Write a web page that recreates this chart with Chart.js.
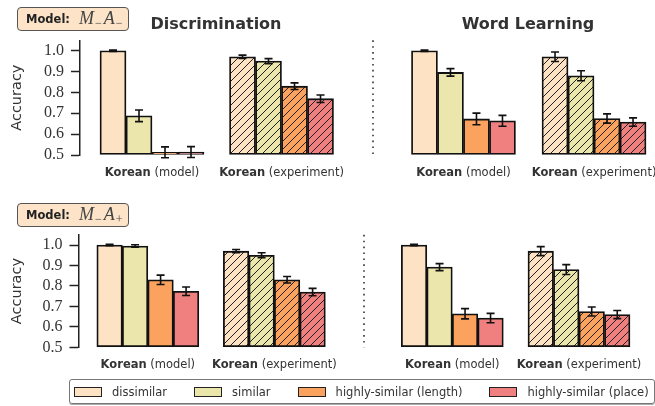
<!DOCTYPE html>
<html>
<head>
<meta charset="utf-8">
<script src="https://cdn.jsdelivr.net/npm/chart.js@4.4.1/dist/chart.umd.min.js"></script>
<style>
  html, body { margin: 0; padding: 0; background: #fff; }
  #fig { position: relative; width: 655px; height: 406px; overflow: hidden;
         font-family: "DejaVu Sans", sans-serif; color: #333; }
  #fig canvas { position: absolute; left: 0; top: 0; }
  .title { position: absolute; font-weight: bold; font-size: 16px; line-height: 18px;
           transform: translateX(-50%); white-space: nowrap; color: #333; }
  .model { position: absolute; left: 17px; width: 112px; height: 24px; box-sizing: border-box;
           border: 1px solid #555; border-radius: 4px; background: #fde4c8;
           display: flex; align-items: center; padding-left: 8px; white-space: nowrap; color: #222; }
  .model b { font-size: 11.5px; margin-right: 9px; }
  .math { font-family: "Liberation Serif", serif; font-style: italic; font-size: 18px; color: #444; }
  .math sub { font-style: normal; font-size: 12px; vertical-align: -3px; margin: 0 2px 0 1px; }
  #legend { position: absolute; left: 69px; top: 379px; width: 586px; height: 25px; box-sizing: border-box;
            border: 1px solid #777; border-radius: 3px; box-shadow: 0 1px 0 #aaa;
            display: flex; align-items: center; padding-left: 4px; font-size: 11.5px; color: #333;
            white-space: nowrap; }
  .swatch { width: 28px; height: 10px; box-sizing: border-box; border: 1px solid #222; margin-right: 10px; flex: none; }
  .item { display: flex; align-items: center; margin-right: 27px; flex: none; }
</style>
</head>
<body>
<div id="fig">
  <canvas id="tl" width="655" height="406"></canvas>
  <canvas id="tr" width="655" height="406"></canvas>
  <canvas id="bl" width="655" height="406"></canvas>
  <canvas id="br" width="655" height="406"></canvas>
  <div class="model" style="top:7px"><b>Model:</b><span class="math">M<sub>−</sub>A<sub>−</sub></span></div>
  <div class="model" style="top:203px"><b>Model:</b><span class="math">M<sub>−</sub>A<sub>+</sub></span></div>
  <div class="title" style="left:216px; top:15px">Discrimination</div>
  <div class="title" style="left:528px; top:15px">Word Learning</div>
  <div id="legend"></div>
</div>
<script>
// Groups along the x axis and the four stimulus conditions
const language = 'Korean';
const categories = ['model', 'experiment'];
const series = ['dissimilar', 'similar', 'highly-similar (length)', 'highly-similar (place)'];
const seriesColors = ['#fde2c3', '#ebe6ac', '#fba35e', '#f08080'];
const tickValues = [0.5, 0.6, 0.7, 0.8, 0.9, 1.0];

// Mean accuracy per condition: [model, experiment]
const discMinusMean = [[1.000, 0.971], [0.688, 0.950], [0.513, 0.830], [0.514, 0.770]];
const discMinusErr  = [[0.003, 0.008], [0.028, 0.012], [0.026, 0.016], [0.026, 0.018]];
const wordMinusMean = [[1.000, 0.971], [0.896, 0.880], [0.673, 0.675], [0.664, 0.658]];
const wordMinusErr  = [[0.003, 0.023], [0.018, 0.024], [0.028, 0.022], [0.026, 0.020]];
const discPlusMean  = [[1.000, 0.970], [0.995, 0.950], [0.830, 0.830], [0.774, 0.770]];
const discPlusErr   = [[0.003, 0.008], [0.006, 0.012], [0.023, 0.016], [0.021, 0.018]];
const wordPlusMean  = [[1.000, 0.970], [0.892, 0.880], [0.664, 0.675], [0.643, 0.660]];
const wordPlusErr   = [[0.003, 0.022], [0.017, 0.024], [0.025, 0.022], [0.023, 0.020]];

const W = 655, H = 406;

// Diagonal hatching used for the experiment bars
const patternCache = {};
function hatch(color) {
  if (patternCache[color]) return patternCache[color];
  const s = 8;
  const c = document.createElement('canvas');
  c.width = s; c.height = s;
  const g = c.getContext('2d');
  g.fillStyle = color; g.fillRect(0, 0, s, s);
  g.strokeStyle = '#222'; g.lineWidth = 1;
  g.beginPath();
  g.moveTo(0, s); g.lineTo(s, 0);
  g.moveTo(-1, 1); g.lineTo(1, -1);
  g.moveTo(s - 1, s + 1); g.lineTo(s + 1, s - 1);
  g.stroke();
  patternCache[color] = g.createPattern(c, 'repeat');
  return patternCache[color];
}

// Vertical error bars with caps
const errorBars = {
  id: 'errorBars',
  afterDatasetsDraw(chart) {
    const ctx = chart.ctx, y = chart.scales.y;
    ctx.save();
    ctx.strokeStyle = '#111';
    ctx.lineWidth = 1.6;
    chart.data.datasets.forEach((ds, di) => {
      chart.getDatasetMeta(di).data.forEach((bar, i) => {
        const v = ds.data[i].y, e = ds.errors[i];
        const yt = y.getPixelForValue(v + e), yb = y.getPixelForValue(v - e);
        const x = bar.x, cap = 4;
        ctx.beginPath();
        ctx.moveTo(x, yt); ctx.lineTo(x, yb);
        ctx.moveTo(x - cap, yt); ctx.lineTo(x + cap, yt);
        ctx.moveTo(x - cap, yb); ctx.lineTo(x + cap, yb);
        ctx.stroke();
      });
    });
    ctx.restore();
  }
};

// Dotted separator on the left edge of the word-learning panels
const dottedEdge = {
  id: 'dottedEdge',
  beforeDatasetsDraw(chart, args, opts) {
    if (!opts.show) return;
    const ctx = chart.ctx, a = chart.chartArea;
    ctx.save();
    ctx.strokeStyle = '#333';
    ctx.lineWidth = 1.6;
    ctx.setLineDash([1.6, 4.3]);
    ctx.beginPath();
    ctx.moveTo(a.left, a.top);
    ctx.lineTo(a.left, a.bottom);
    ctx.stroke();
    ctx.restore();
  }
};

// Group labels: bold language name followed by the group in brackets
const groupLabels = {
  id: 'groupLabels',
  afterDraw(chart) {
    const ctx = chart.ctx, xs = chart.scales.x;
    const bold = 'bold 11.5px "DejaVu Sans"', normal = '11.5px "DejaVu Sans"';
    ctx.save();
    ctx.fillStyle = '#333';
    ctx.textBaseline = 'middle';
    ctx.textAlign = 'left';
    categories.forEach((cat, i) => {
      const cx = xs.getPixelForValue(i);
      const cy = chart.chartArea.bottom + 18;
      const rest = ' (' + cat + ')';
      ctx.font = bold; const wa = ctx.measureText(language).width;
      ctx.font = normal; const wb = ctx.measureText(rest).width;
      const x0 = cx - (wa + wb) / 2;
      ctx.font = bold; ctx.fillText(language, x0, cy);
      ctx.font = normal; ctx.fillText(rest, x0 + wa, cy);
    });
    ctx.restore();
  }
};

function makePanel(id, means, errs, lay) {
  const datasets = series.map((name, s) => ({
    label: name,
    data: categories.map((c, i) => ({ x: i, y: means[s][i] })),
    errors: errs[s],
    backgroundColor: ctx => ctx.dataIndex === 1 ? hatch(seriesColors[s]) : seriesColors[s],
    borderColor: '#111',
    borderWidth: 1.8,
    borderSkipped: false,
    barThickness: lay.bar,
    base: 0.5
  }));
  new Chart(document.getElementById(id), {
    type: 'bar',
    data: { datasets },
    plugins: [dottedEdge, errorBars, groupLabels],
    options: {
      responsive: false,
      animation: false,
      events: [],
      layout: { padding: { left: lay.left - lay.axisW, top: lay.top, right: W - lay.right, bottom: H - lay.bottom } },
      plugins: { legend: { display: false }, tooltip: { enabled: false }, dottedEdge: { show: !lay.ticks } },
      scales: {
        x: { type: 'linear', offset: false, min: lay.xMin, max: lay.xMax, display: false },
        y: {
          min: 0.5, max: 1.05,
          afterBuildTicks: sc => { sc.ticks = tickValues.map(v => ({ value: v })); },
          afterFit: sc => { sc.width = lay.axisW; sc.paddingTop = 0; sc.paddingBottom = 0; },
          grid: { drawOnChartArea: false, drawTicks: lay.ticks, tickLength: 9, tickWidth: 1.5, tickColor: '#222' },
          border: { display: lay.ticks, color: '#222', width: 1.5 },
          ticks: {
            display: lay.ticks,
            padding: 7,
            color: '#333',
            font: { family: '"Liberation Serif", serif', size: 16 },
            callback: v => Number(v).toFixed(1)
          },
          title: {
            display: lay.ticks,
            text: 'Accuracy',
            color: '#333',
            font: { family: '"DejaVu Sans", sans-serif', size: 14.5 },
            padding: { top: 9, bottom: 0 }
          }
        }
      }
    }
  });
}

makePanel('tl', discMinusMean, discMinusErr,
  { left: 80, right: 360, top: 40.3, bottom: 155, xMin: -0.556, xMax: 1.606, bar: 26, axisW: 80, ticks: true });
makePanel('tr', wordMinusMean, wordMinusErr,
  { left: 373, right: 655, top: 40.3, bottom: 155, xMin: -0.693, xMax: 1.467, bar: 26, axisW: 0, ticks: false });
makePanel('bl', discPlusMean, discPlusErr,
  { left: 78.5, right: 360, top: 234.8, bottom: 347.3, xMin: -0.548, xMax: 1.677, bar: 25.5, axisW: 78.5, ticks: true });
makePanel('br', wordPlusMean, wordPlusErr,
  { left: 364, right: 655, top: 234.8, bottom: 347.3, xMin: -0.697, xMax: 1.6, bar: 25.5, axisW: 0, ticks: false });

// Shared legend
const legend = document.getElementById('legend');
series.forEach((name, s) => {
  const item = document.createElement('div');
  item.className = 'item';
  const sw = document.createElement('div');
  sw.className = 'swatch';
  sw.style.background = seriesColors[s];
  const label = document.createElement('span');
  label.textContent = name;
  item.appendChild(sw);
  item.appendChild(label);
  legend.appendChild(item);
});
</script>
</body>
</html>
